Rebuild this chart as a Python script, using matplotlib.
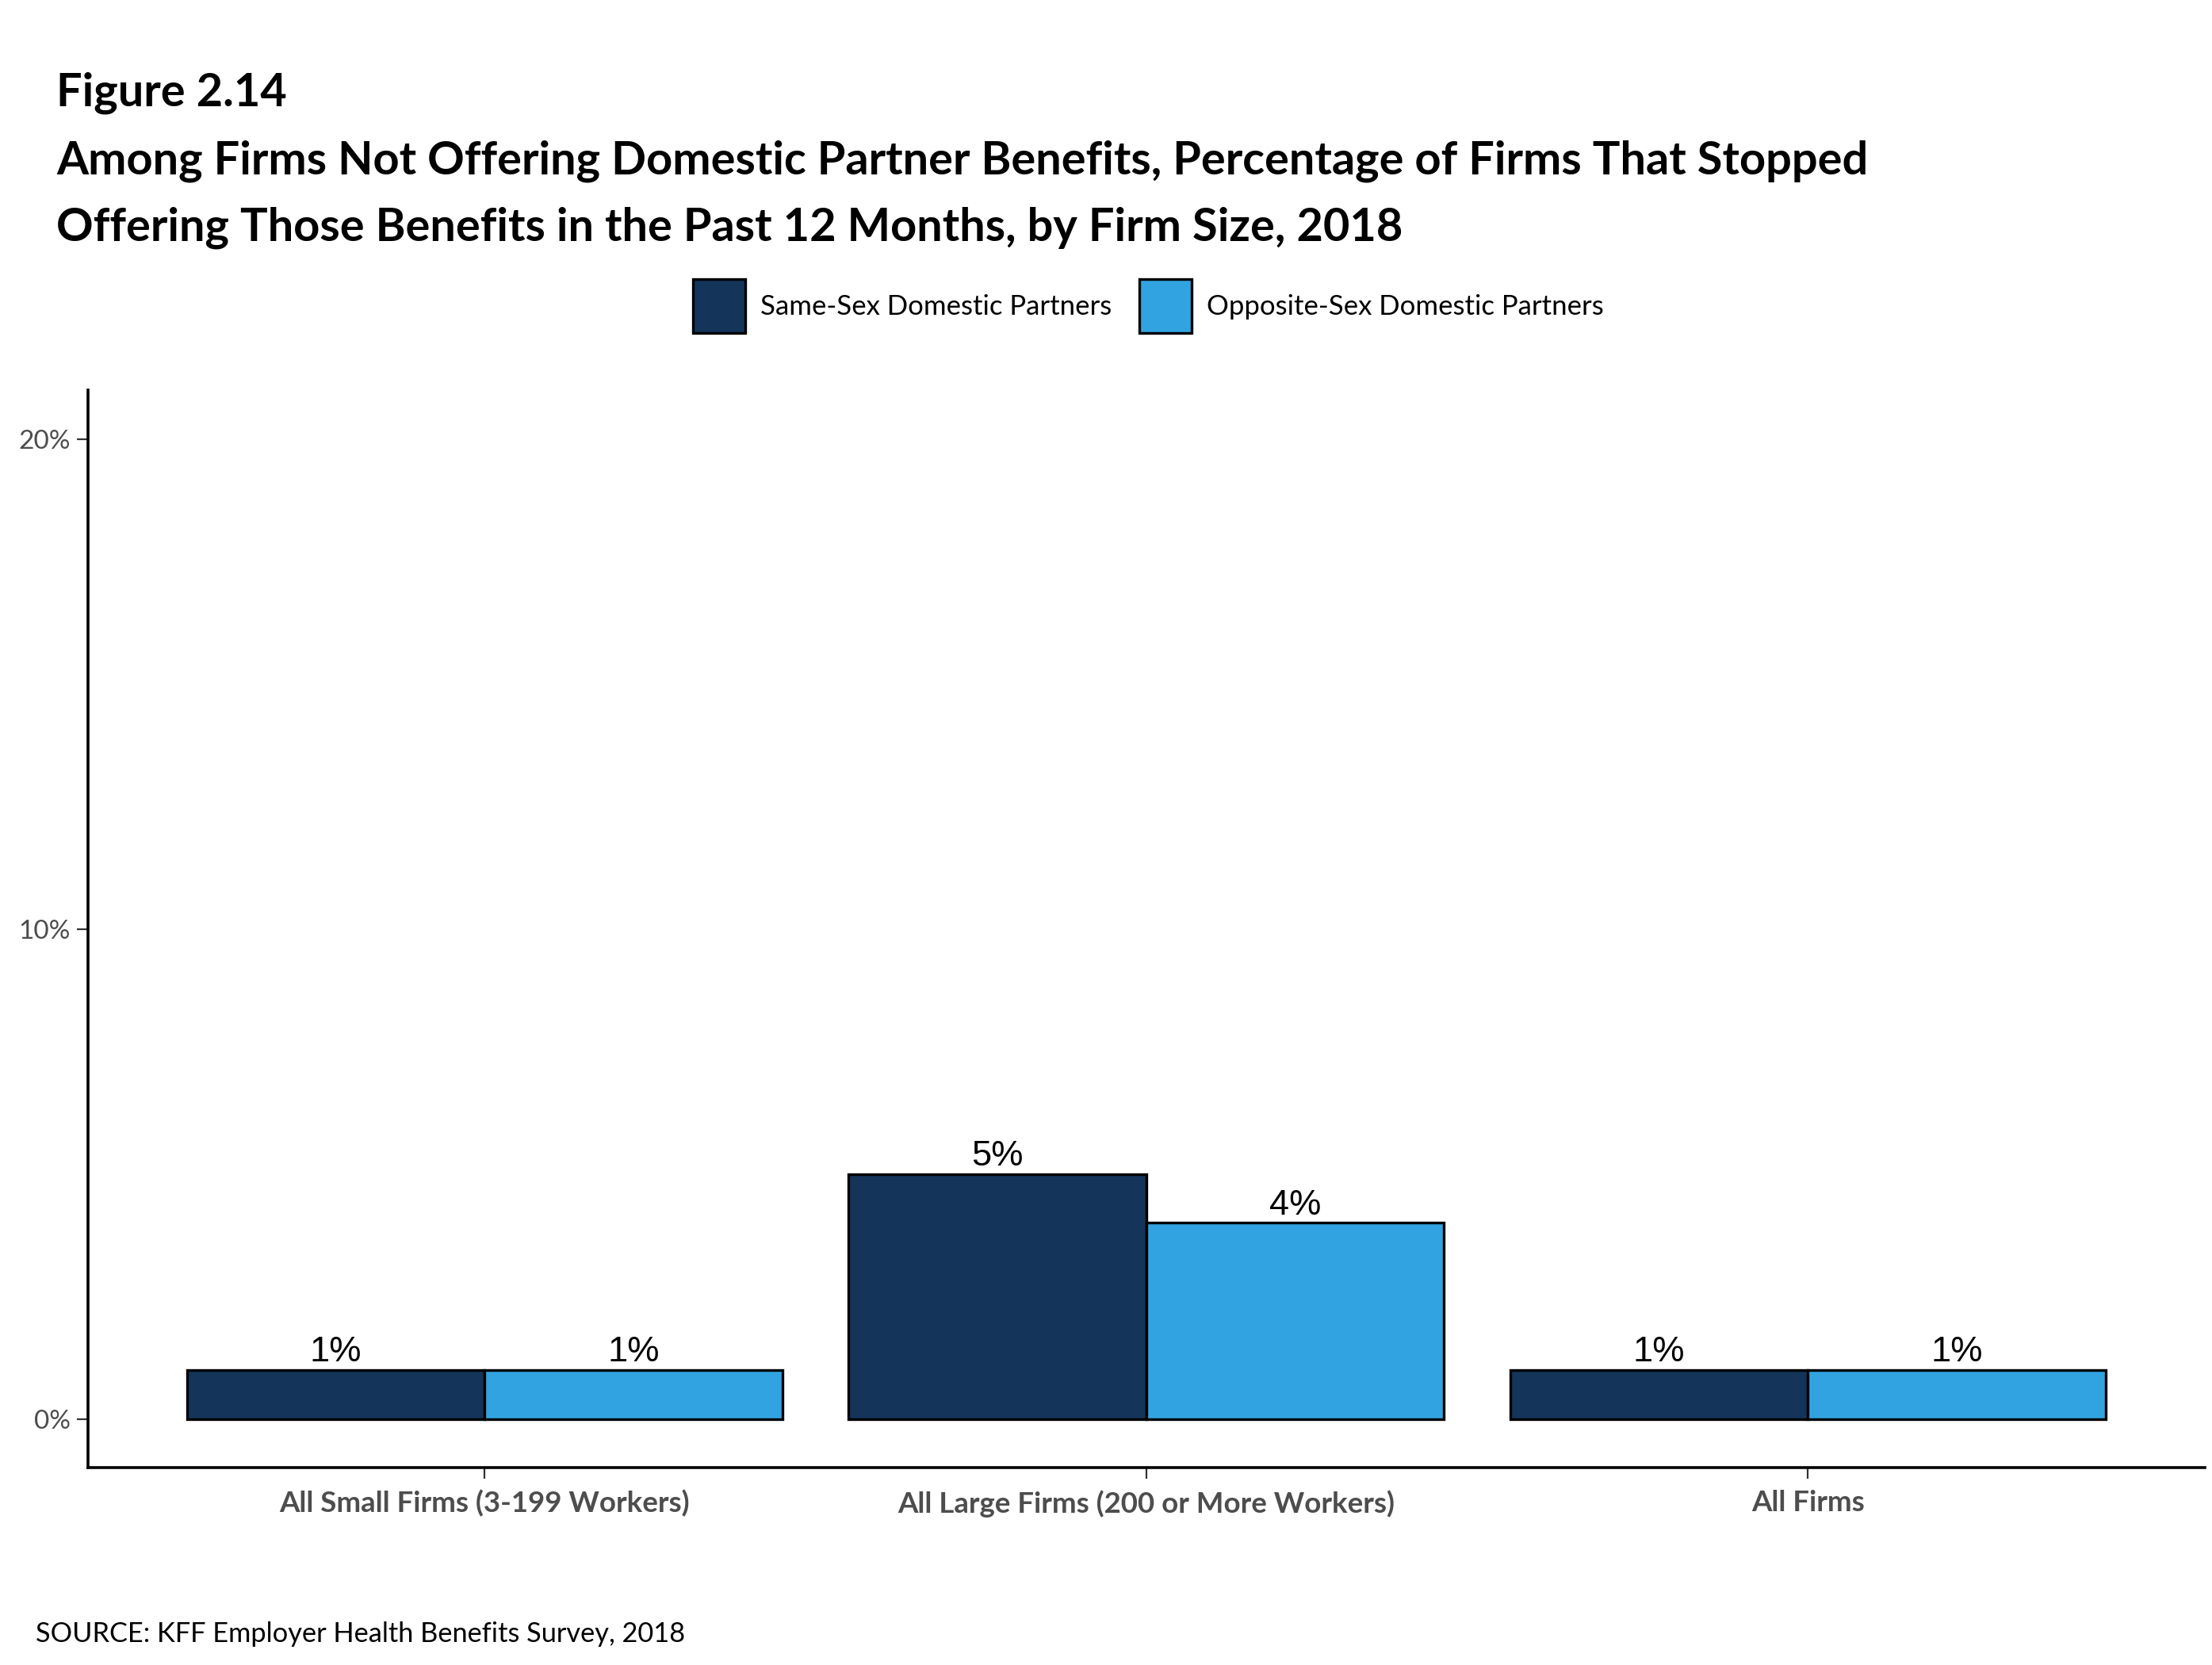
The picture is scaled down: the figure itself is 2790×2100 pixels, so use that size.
import matplotlib
matplotlib.use("Agg")
import matplotlib.pyplot as plt
import numpy as np

# values
categories = ["All Small Firms (3-199 Workers)", "All Large Firms (200 or More Workers)", "All Firms"]
same_sex = [1, 5, 1]
opposite_sex = [1, 4, 1]
series_names = ["Same-Sex Domestic Partners", "Opposite-Sex Domestic Partners"]
yticks = [0, 10, 20]
ytick_labels = ["0%", "10%", "20%"]

dark = "#14345A"
light = "#31A3E0"
font = "Lato"

fig = plt.figure(figsize=(13.95, 10.5), dpi=200)
ax = fig.add_axes([0.0397, 0.1184, 0.9571, 0.6474])

x = np.arange(1, len(categories) + 1)
w = 0.45
b1 = ax.bar(x - w / 2, same_sex, w, color=dark, edgecolor="black", linewidth=1.2, label=series_names[0])
b2 = ax.bar(x + w / 2, opposite_sex, w, color=light, edgecolor="black", linewidth=1.2, label=series_names[1])

for bars, vals in [(b1, same_sex), (b2, opposite_sex)]:
    for r, v in zip(bars, vals):
        ax.text(r.get_x() + r.get_width() / 2, v + 0.03, "%d%%" % v, ha="center", va="bottom",
                fontsize=16.3, family="Liberation Sans", color="black")

ax.set_xlim(0.4, 3.6)
ax.set_ylim(-1.0, 21.0)
ax.set_xticks(x)
ax.set_xticklabels(categories, family=font, fontweight="bold", fontsize=13.2, color="#4d4d4d")
ax.set_yticks(yticks)
ax.set_yticklabels(ytick_labels, family=font, fontsize=12, color="#4d4d4d")
ax.tick_params(axis="both", length=5, width=0.8, color="#333333")
ax.tick_params(axis="x", pad=5)
ax.tick_params(axis="y", pad=3)
for s in ["top", "right"]:
    ax.spines[s].set_visible(False)
for s in ["left", "bottom"]:
    ax.spines[s].set_linewidth(1.3)

title_kw = dict(family=font, fontweight="bold", fontsize=20.8, va="center")
fig.text(0.0256, 0.944, "Figure 2.14", **title_kw)
fig.text(0.0256, 0.903, "Among Firms Not Offering Domestic Partner Benefits, Percentage of Firms That Stopped",
         **title_kw)
fig.text(0.0256, 0.863, "Offering Those Benefits in the Past 12 Months, by Firm Size, 2018", **title_kw)

leg = fig.legend(handles=[b1, b2], loc="center", bbox_to_anchor=(0.519, 0.816), ncol=2, frameon=False,
                 prop={"family": font, "size": 12.5}, handlelength=1.9, handleheight=2.64,
                 handletextpad=0.55, columnspacing=1.0)

fig.text(0.016, 0.011, "SOURCE: KFF Employer Health Benefits Survey, 2018", family=font, fontsize=12.4,
         va="bottom")

fig.savefig("out.png", dpi=200)
